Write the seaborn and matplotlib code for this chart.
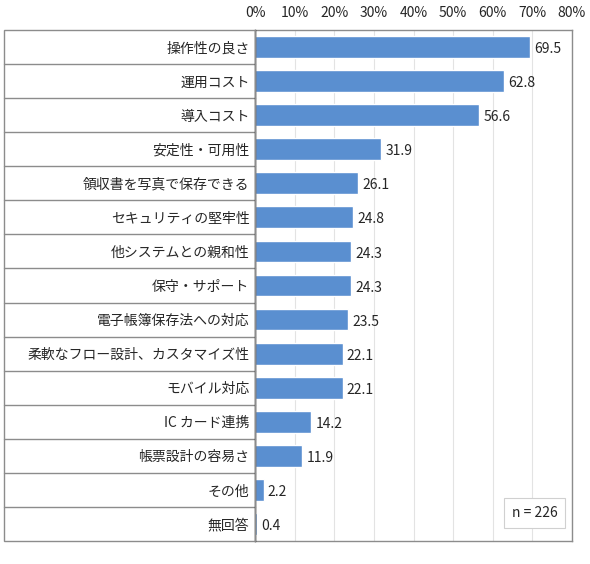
import pandas as pd
import seaborn as sns
import matplotlib.pyplot as plt
import matplotlib.transforms as mtransforms
from matplotlib.patches import Rectangle

# data
categories = ["操作性の良さ", "運用コスト", "導入コスト", "安定性・可用性", "領収書を写真で保存できる",
              "セキュリティの堅牢性", "他システムとの親和性", "保守・サポート", "電子帳簿保存法への対応",
              "柔軟なフロー設計、カスタマイズ性", "モバイル対応", "IC カード連携", "帳票設計の容易さ",
              "その他", "無回答"]
values = [69.5, 62.8, 56.6, 31.9, 26.1, 24.8, 24.3, 24.3, 23.5, 22.1, 22.1, 14.2, 11.9, 2.2, 0.4]
tick_values = [0, 10, 20, 30, 40, 50, 60, 70, 80]
tick_labels = [f"{t}%" for t in tick_values]
n_label = "n = 226"

sns.set_theme(style="white")
plt.rcParams["font.family"] = ["Noto Sans CJK JP", "DejaVu Sans"]

df = pd.DataFrame({"item": categories, "pct": values})

W, H = 590, 564
fig = plt.figure(figsize=(W / 100, H / 100), dpi=100)
left_px, right_px, top_px, bottom_px = 255, 572, 30, 541
ax = fig.add_axes([left_px / W, 1 - bottom_px / H, (right_px - left_px) / W, (bottom_px - top_px) / H])

sns.barplot(data=df, y="item", x="pct", orient="h", color="#5A8FD0", width=0.64,
            saturation=1, ax=ax, zorder=3)

ax.set_xlim(0, 80)
ax.set_ylim(len(categories) - 0.5, -0.5)
ax.set_xticks(tick_values)
ax.set_xticklabels(tick_labels)
ax.xaxis.tick_top()
ax.tick_params(axis="x", length=0, pad=7, labelsize=10, colors="#262626")
ax.tick_params(axis="y", length=0, pad=4, labelsize=10, colors="#262626")
ax.set_xlabel("")
ax.set_ylabel("")
ax.grid(axis="x", color="#e3e3e3", linewidth=0.8, zorder=0)

for side in ["top", "right", "bottom"]:
    ax.spines[side].set_color("#8c8c8c")
    ax.spines[side].set_linewidth(1.0)
ax.spines["left"].set_color("#000000")
ax.spines["left"].set_linewidth(1.0)
ax.spines["left"].set_zorder(5)

# value labels
for i, v in enumerate(values):
    ax.annotate(f"{v:.1f}", (v, i), xytext=(3, -1.5), textcoords="offset points",
                va="center", ha="left", fontsize=10, color="#262626")

# table-like label area on the left
trans = mtransforms.blended_transform_factory(fig.transFigure, ax.transData)
x0 = 4 / W
x1 = left_px / W
for k in range(1, len(categories)):
    ax.plot([x0, x1], [k - 0.5, k - 0.5], transform=trans, color="#8c8c8c",
            linewidth=1.0, clip_on=False)
fig.patches.append(Rectangle((x0, 1 - bottom_px / H), x1 - x0, (bottom_px - top_px) / H,
                             transform=fig.transFigure, fill=False, edgecolor="#8c8c8c",
                             linewidth=1.0))

# sample size box
ax.text(0.882, 0.055, n_label, transform=ax.transAxes, ha="center", va="center",
        fontsize=10, color="#262626", zorder=6,
        bbox=dict(boxstyle="square,pad=0.55", facecolor="white", edgecolor="#d0d0d0", linewidth=0.8))

fig.savefig("out.png", dpi=100)
